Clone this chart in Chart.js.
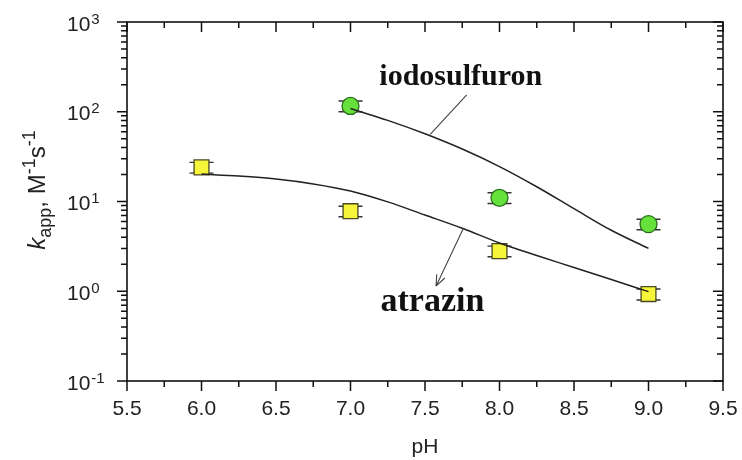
<!DOCTYPE html>
<html>
<head>
<meta charset="utf-8">
<script src="https://cdn.jsdelivr.net/npm/chart.js@4.4.1/dist/chart.umd.min.js"></script>
<style>
  html, body { margin: 0; padding: 0; background: #fff; }
  #wrap { width: 742px; height: 460px; position: relative; }
</style>
</head>
<body>
<div id="wrap"><canvas id="c"></canvas></div>
<script>
// Measured apparent rate constants (M^-1 s^-1) versus pH
const pHIodosulfuron = [7.0, 8.0, 9.0];
const kIodosulfuron = [116, 11.0, 5.6];
const errIodosulfuron = [16, 1.5, 0.75];

const pHAtrazin = [6.0, 7.0, 8.0, 9.0];
const kAtrazin = [24, 7.8, 2.8, 0.93];
const errAtrazin = [3.3, 1.05, 0.38, 0.13];

// Model curves
const pHFitIodosulfuron = [7.0, 7.25, 7.5, 7.75, 8.0, 8.25, 8.5, 8.75, 9.0];
const kFitIodosulfuron = [108.6, 80.2, 56.8, 38.4, 24.5, 14.6, 8.32, 4.78, 3.0];

const pHFitAtrazin = [6.0, 6.25, 6.5, 6.75, 7.0, 7.25, 7.5, 7.75, 8.0, 8.25, 8.5, 8.75, 9.0];
const kFitAtrazin = [20.2, 19.2, 17.8, 15.7, 13.1, 9.9, 7.07, 5.03, 3.45, 2.50, 1.84, 1.35, 0.99];

// Axis ticks
const xMajorTicks = [5.5, 6.0, 6.5, 7.0, 7.5, 8.0, 8.5, 9.0, 9.5];
const xMinorTicks = [5.75, 6.25, 6.75, 7.25, 7.75, 8.25, 8.75, 9.25];
const yDecadeExponents = [-1, 0, 1, 2, 3];
const yMinorMultipliers = [2, 3, 4, 5, 6, 7, 8, 9];

// Text callouts, anchored in data coordinates
const callouts = [
  { text: 'iodosulfuron', size: 30, x: 7.74, y: 244, from: [7.78, 154], to: [7.535, 56], arrow: false },
  { text: 'atrazin', size: 34, x: 7.55, y: 0.76, from: [7.757, 5.0], to: [7.574, 1.14], arrow: true }
];

const SANS = '"Liberation Sans", Arial, sans-serif';

const pts = (xs, ys) => xs.map((x, i) => ({ x, y: ys[i] }));

// Small capped error bars, drawn beneath the markers
const errorBars = {
  id: 'errorBars',
  beforeDatasetsDraw(chart) {
    const { ctx, scales: { x, y } } = chart;
    const sets = [[pHIodosulfuron, kIodosulfuron, errIodosulfuron], [pHAtrazin, kAtrazin, errAtrazin]];
    ctx.save();
    ctx.strokeStyle = '#333';
    ctx.lineWidth = 1.4;
    for (const [xs, ks, es] of sets) {
      xs.forEach((xv, i) => {
        const px = x.getPixelForValue(xv);
        const top = y.getPixelForValue(ks[i] + es[i]);
        const bot = y.getPixelForValue(ks[i] - es[i]);
        ctx.beginPath();
        ctx.moveTo(px, top); ctx.lineTo(px, bot);
        ctx.moveTo(px - 12, top); ctx.lineTo(px + 12, top);
        ctx.moveTo(px - 12, bot); ctx.lineTo(px + 12, bot);
        ctx.stroke();
      });
    }
    ctx.restore();
  }
};

// Boxed frame with ticks (outward on left/bottom, inward on top/right), labels and titles
const frame = {
  id: 'frame',
  afterDraw(chart) {
    const { ctx, chartArea: a, scales: { x, y } } = chart;
    ctx.save();
    ctx.strokeStyle = '#111';
    ctx.lineWidth = 1.6;
    ctx.strokeRect(a.left, a.top, a.right - a.left, a.bottom - a.top);

    ctx.lineWidth = 1.5;
    ctx.beginPath();
    const xTick = (v, len) => {
      const px = x.getPixelForValue(v);
      ctx.moveTo(px, a.bottom); ctx.lineTo(px, a.bottom + len);
      ctx.moveTo(px, a.top); ctx.lineTo(px, a.top + len);
    };
    xMajorTicks.forEach(v => xTick(v, 10));
    xMinorTicks.forEach(v => xTick(v, 6));
    const yTick = (v, len) => {
      const py = y.getPixelForValue(v);
      ctx.moveTo(a.left - len, py); ctx.lineTo(a.left, py);
      ctx.moveTo(a.right - len, py); ctx.lineTo(a.right, py);
    };
    yDecadeExponents.forEach(e => {
      yTick(Math.pow(10, e), 10);
      if (e < 3) yMinorMultipliers.forEach(m => yTick(m * Math.pow(10, e), 6));
    });
    ctx.stroke();

    // x tick labels
    ctx.fillStyle = '#222';
    ctx.font = '21px ' + SANS;
    ctx.textAlign = 'center';
    ctx.textBaseline = 'middle';
    xMajorTicks.forEach(v => ctx.fillText(v.toFixed(1), x.getPixelForValue(v), a.bottom + 28));

    // y tick labels: 10 with superscript exponent
    ctx.textAlign = 'left';
    ctx.textBaseline = 'alphabetic';
    yDecadeExponents.forEach(e => {
      const py = y.getPixelForValue(Math.pow(10, e));
      ctx.font = '21px ' + SANS;
      ctx.fillText('10', 67, py + 8.5);
      const w = ctx.measureText('10').width;
      ctx.font = '15px ' + SANS;
      ctx.fillText(String(e), 67 + w + 1, py + 1.5);
    });

    // x axis title
    ctx.font = '21px ' + SANS;
    ctx.textAlign = 'center';
    ctx.textBaseline = 'middle';
    ctx.fillText('pH', (a.left + a.right) / 2, 447);

    // y axis title, rotated, built from runs
    const runs = [
      { t: 'k', f: 'italic 24px ' + SANS, dy: 0 },
      { t: 'app', f: '18px ' + SANS, dy: 6 },
      { t: ', M', f: '24px ' + SANS, dy: 0 },
      { t: '-1', f: '18px ' + SANS, dy: -10 },
      { t: 's', f: '24px ' + SANS, dy: 0 },
      { t: '-1', f: '18px ' + SANS, dy: -10 }
    ];
    let total = 0;
    runs.forEach(r => { ctx.font = r.f; r.w = ctx.measureText(r.t).width; total += r.w; });
    ctx.translate(45, 190);
    ctx.rotate(-Math.PI / 2);
    ctx.textAlign = 'left';
    ctx.textBaseline = 'alphabetic';
    let cx = -total / 2;
    runs.forEach(r => { ctx.font = r.f; ctx.fillText(r.t, cx, r.dy); cx += r.w; });
    ctx.restore();

    // callouts
    ctx.save();
    callouts.forEach(c => {
      ctx.strokeStyle = '#444';
      ctx.lineWidth = 1.1;
      const x1 = x.getPixelForValue(c.from[0]), y1 = y.getPixelForValue(c.from[1]);
      const x2 = x.getPixelForValue(c.to[0]), y2 = y.getPixelForValue(c.to[1]);
      ctx.beginPath();
      ctx.moveTo(x1, y1); ctx.lineTo(x2, y2);
      if (c.arrow) {
        const ang = Math.atan2(y2 - y1, x2 - x1);
        const hl = 12, ha = 0.38;
        ctx.moveTo(x2, y2);
        ctx.lineTo(x2 - hl * Math.cos(ang - ha), y2 - hl * Math.sin(ang - ha));
        ctx.moveTo(x2, y2);
        ctx.lineTo(x2 - hl * Math.cos(ang + ha), y2 - hl * Math.sin(ang + ha));
      }
      ctx.stroke();
      ctx.fillStyle = '#111';
      ctx.font = 'bold ' + c.size + 'px "Liberation Serif", "Times New Roman", serif';
      ctx.textAlign = 'center';
      ctx.textBaseline = 'middle';
      ctx.fillText(c.text, x.getPixelForValue(c.x), y.getPixelForValue(c.y));
    });
    ctx.restore();
  }
};

new Chart(document.getElementById('c'), {
  type: 'scatter',
  data: {
    datasets: [
      {
        label: 'iodosulfuron fit', data: pts(pHFitIodosulfuron, kFitIodosulfuron), showLine: true,
        borderColor: '#222', borderWidth: 1.5, pointRadius: 0, cubicInterpolationMode: 'monotone', order: 0
      },
      {
        label: 'atrazin fit', data: pts(pHFitAtrazin, kFitAtrazin), showLine: true,
        borderColor: '#222', borderWidth: 1.5, pointRadius: 0, cubicInterpolationMode: 'monotone', order: 0
      },
      {
        label: 'iodosulfuron', data: pts(pHIodosulfuron, kIodosulfuron), pointStyle: 'circle',
        pointRadius: 8.5, backgroundColor: '#66e03a', borderColor: '#2a6e1e', borderWidth: 1.3, order: 1
      },
      {
        label: 'atrazin', data: pts(pHAtrazin, kAtrazin), pointStyle: 'rect',
        pointRadius: 10.5, backgroundColor: '#f7f53a', borderColor: '#4a4a20', borderWidth: 1.3, order: 1
      }
    ]
  },
  options: {
    responsive: true,
    maintainAspectRatio: false,
    animation: false,
    layout: { padding: { left: 127, right: 19, top: 22, bottom: 79 } },
    plugins: { legend: { display: false }, tooltip: { enabled: false } },
    scales: {
      x: { type: 'linear', min: 5.5, max: 9.5, display: false },
      y: { type: 'logarithmic', min: 0.1, max: 1000, display: false }
    }
  },
  plugins: [errorBars, frame]
});
</script>
</body>
</html>
